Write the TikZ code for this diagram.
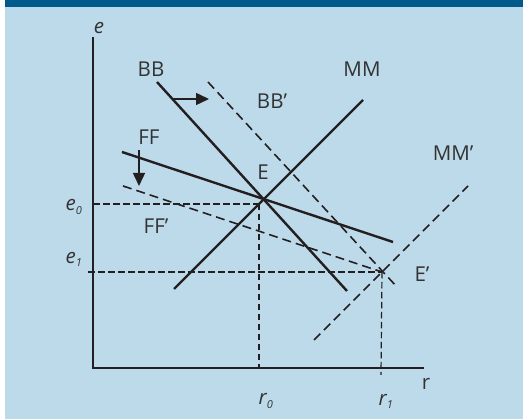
\documentclass[tikz,border=0pt]{standalone}
\usepackage{fontspec}
\setmainfont{Open Sans}
\usetikzlibrary{arrows.meta}
\definecolor{bgblue}{HTML}{BDDAEA}
\definecolor{barblue}{HTML}{005A8B}
\definecolor{ink}{HTML}{231F20}
\definecolor{txt}{HTML}{333333}
\begin{document}
\begin{tikzpicture}[x=1pt,y=-1pt,
  curve/.style={draw=ink,line width=2.4pt},
  dcurve/.style={draw=ink,line width=1.6pt,dash pattern=on 9pt off 5pt},
  guide/.style={draw=ink,line width=1.2pt,dash pattern=on 6.5pt off 3.5pt},
  axisline/.style={draw=ink,line width=1.4pt},
  lbl/.style={text=txt,font=\fontsize{20.5}{20.5}\selectfont,inner sep=0pt},
  sym/.style={text=txt,font=\fontsize{20.5}{20.5}\selectfont\itshape,inner sep=0pt},
  shiftarrow/.style={draw=ink,line width=1.5pt,-{Triangle[length=13pt,width=12pt]}}]
\useasboundingbox (0,0) rectangle (523,419);
\fill[white] (0,0) rectangle (523,419);
\fill[bgblue] (5,0) rectangle (523,419);
\fill[barblue] (5,0) rectangle (523,7);
% coordinates
\coordinate (O) at (93,368);
\coordinate (Ytop) at (93,37);
\coordinate (Xend) at (424,368);
\coordinate (E) at (262,198);
\coordinate (E1) at (382,272);
\coordinate (BBa) at (157,82);
\coordinate (BBb) at (347,291);
\coordinate (BB1a) at (208,82);
\coordinate (BB1b) at (397,287);
\coordinate (MMa) at (174,289);
\coordinate (MMb) at (363,100);
\coordinate (MM1a) at (314,340);
\coordinate (MM1b) at (468,186);
\coordinate (FFa) at (122,152);
\coordinate (FFb) at (393,242);
\coordinate (FF1a) at (123,186);
\coordinate (e0a) at (93,204);
\coordinate (e0b) at (260,204);
\coordinate (e1a) at (88,272);
\coordinate (r0a) at (259,204);
\coordinate (r0b) at (259,368);
\coordinate (r1b) at (381,375);
\coordinate (bbs) at (173,99);
\coordinate (bbt) at (209,99);
\coordinate (ffs) at (139,150);
\coordinate (fft) at (139,186);
% axes
\draw[axisline] (Ytop) -- (O) -- (Xend);
% guides
\draw[guide] (e0a) -- (e0b);
\draw[guide] (e1a) -- (E1);
\draw[guide] (r0a) -- (r0b);
\draw[guide] (E1) -- (r1b);
% curves
\draw[curve] (BBa) -- (BBb);
\draw[curve] (MMa) -- (MMb);
\draw[curve] (FFa) -- (FFb);
\draw[dcurve] (BB1a) -- (BB1b);
\draw[dcurve] (MM1a) -- (MM1b);
\draw[dcurve] (FF1a) -- (E1);
% shift arrows
\draw[shiftarrow] (bbs) -- (bbt);
\draw[shiftarrow] (ffs) -- (fft);
% labels
\node[sym] (le) at (99,28) {e};
\node[lbl] (lr) at (426,384) {r};
\node[lbl] (lBB) at (151,69) {BB};
\node[lbl] (lBB1) at (272,101) {BB’};
\node[lbl] (lMM) at (362,69) {MM};
\node[lbl] (lMM1) at (453,153) {MM’};
\node[lbl] (lFF) at (149,137) {FF};
\node[lbl] (lFF1) at (156,226) {FF’};
\node[lbl] (lE) at (263,172) {E};
\node[lbl] (lE1) at (422,274) {E’};
\node[sym] (le0) at (74,207) {e\textsubscript{\fontsize{11}{11}\selectfont 0}};
\node[sym] (le1) at (74,259) {e\textsubscript{\fontsize{11}{11}\selectfont 1}};
\node[sym] (lr0) at (266,401) {r\textsubscript{\fontsize{11}{11}\selectfont 0}};
\node[sym] (lr1) at (386,401) {r\textsubscript{\fontsize{11}{11}\selectfont 1}};
\end{tikzpicture}
\end{document}
